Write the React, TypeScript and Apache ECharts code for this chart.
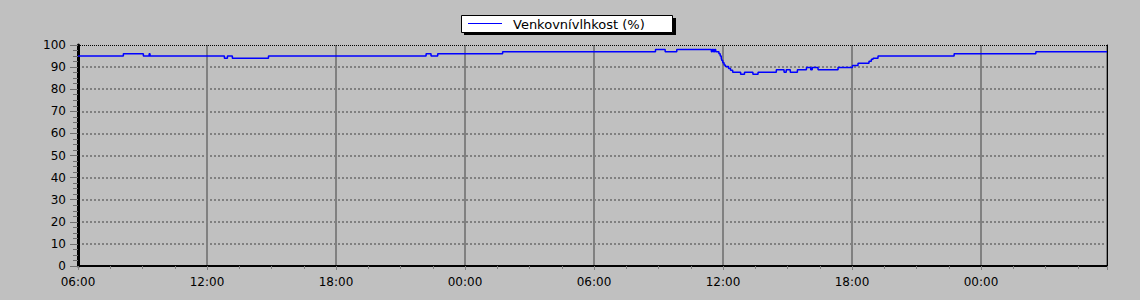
import React, { useEffect, useRef } from "react";
import * as echarts from "echarts";

// Time of each reading, in hours after 06:00 of the first day
const hourOffsets = [
  0, 2.11, 3.04, 3.31, 3.35, 6.81, 6.95, 7.18, 8.86, 16.19, 16.42, 16.73, 19.75,
  26.86, 27.31, 27.85, 29.46, 29.5, 29.56, 29.61, 29.66, 29.81, 29.87, 29.92,
  29.95, 29.99, 30.05, 30.11, 30.26, 30.35, 30.45, 30.82, 31.0, 31.39, 31.63,
  32.48, 32.84, 32.94, 33.13, 33.46, 33.88, 34.08, 34.15, 34.42, 35.35, 36.02,
  36.28, 36.79, 36.9, 36.98, 37.21, 40.75, 44.55, 47.86,
];
// Outdoor humidity (%)
const humidity = [
  95, 96, 95, 96, 95, 94, 95, 94, 95, 96, 95, 96, 97, 98, 97, 98, 97, 98, 97,
  98, 97, 96, 95, 94, 93, 92, 91, 90.3, 89.4, 88.6, 87.7, 86.8, 87.7, 86.8,
  87.7, 88.8, 87.7, 88.8, 87.7, 88.8, 89.8, 88.8, 89.8, 88.8, 89.8, 90.7, 91.7,
  92.6, 93.5, 94, 95, 96, 97, 97,
];
const seriesName = "Venkovnívlhkost (%)";
const startHour = 6;
const xMinHours = 0;
const xMaxHours = 47.86;
const xTickHours = 6;
const yMin = 0;
const yMax = 100;
const yTick = 10;

const fmtHour = (v: number) => {
  const h = Math.round(((startHour + v) % 24 + 24) % 24);
  return (h < 10 ? "0" : "") + h + ":00";
};

export default function App() {
  const ref = useRef<HTMLDivElement>(null);
  useEffect(() => {
    if (!ref.current) return;
    const chart = echarts.init(ref.current, null, { renderer: "svg" });
    const font = "DejaVu Sans";
    chart.setOption({
      animation: false,
      backgroundColor: "#c0c0c0",
      grid: { left: 78, right: 33, top: 45, bottom: 34, containLabel: false },
      xAxis: {
        type: "value",
        min: xMinHours,
        max: xMaxHours,
        interval: xTickHours,
        axisLine: { show: true, lineStyle: { color: "#000", width: 2 } },
        axisTick: { show: true, length: 4, lineStyle: { color: "#808080", width: 1 } },
        minorTick: { show: true, splitNumber: 4, length: 3, lineStyle: { color: "#808080", width: 1 } },
        axisLabel: {
          formatter: fmtHour,
          showMaxLabel: false,
          margin: 10,
          color: "#000",
          fontFamily: font,
          fontSize: 12,
        },
        splitLine: { show: true, lineStyle: { color: "#808080", width: 2, type: "solid" } },
      },
      yAxis: [
        {
          type: "value",
          min: yMin,
          max: yMax,
          interval: yTick,
          axisLine: { show: true, lineStyle: { color: "#000", width: 3 } },
          axisTick: { show: true, length: 8, lineStyle: { color: "#707070", width: 1 } },
          minorTick: { show: true, splitNumber: 4, length: 5, lineStyle: { color: "#707070", width: 1 } },
          axisLabel: { margin: 12, color: "#000", fontFamily: font, fontSize: 12 },
          splitLine: {
            show: true,
            showMinLine: false,
            showMaxLine: false,
            lineStyle: { color: "#808080", width: 2, type: [2, 2] },
          },
        },
        {
          type: "value",
          min: yMin,
          max: yMax,
          interval: yTick,
          position: "right",
          axisLine: { show: true, lineStyle: { color: "#000", width: 1 } },
          axisTick: { show: false },
          axisLabel: { show: false },
          splitLine: { show: false },
        },
      ],
      series: [
        {
          name: seriesName,
          type: "line",
          step: "end",
          symbol: "none",
          data: hourOffsets.map((h, i) => [h, humidity[i]]),
          lineStyle: { color: "#0000ff", width: 1.5 },
          markLine: {
            silent: true,
            symbol: ["none", "none"],
            label: { show: false },
            lineStyle: { color: "#000", type: "dotted", width: 1 },
            data: [{ yAxis: yMax }],
          },
        },
      ],
      graphic: [
        { type: "rect", shape: { x: 464, y: 18, width: 212, height: 17 }, style: { fill: "#000" } },
        {
          type: "rect",
          shape: { x: 461.5, y: 15.5, width: 211, height: 17 },
          style: { fill: "#fff", stroke: "#000", lineWidth: 1 },
        },
        {
          type: "line",
          shape: { x1: 468, y1: 23.5, x2: 502, y2: 23.5 },
          style: { stroke: "#0000ff", lineWidth: 1 },
        },
        {
          type: "text",
          x: 513,
          y: 24,
          style: {
            text: seriesName,
            fill: "#000",
            fontFamily: font,
            fontSize: 13,
            verticalAlign: "middle",
            align: "left",
          },
        },
      ],
    });
    return () => chart.dispose();
  }, []);
  return (
    <div
      ref={ref}
      style={{ position: "fixed", left: 0, top: 0, width: 1140, height: 300 }}
    />
  );
}
